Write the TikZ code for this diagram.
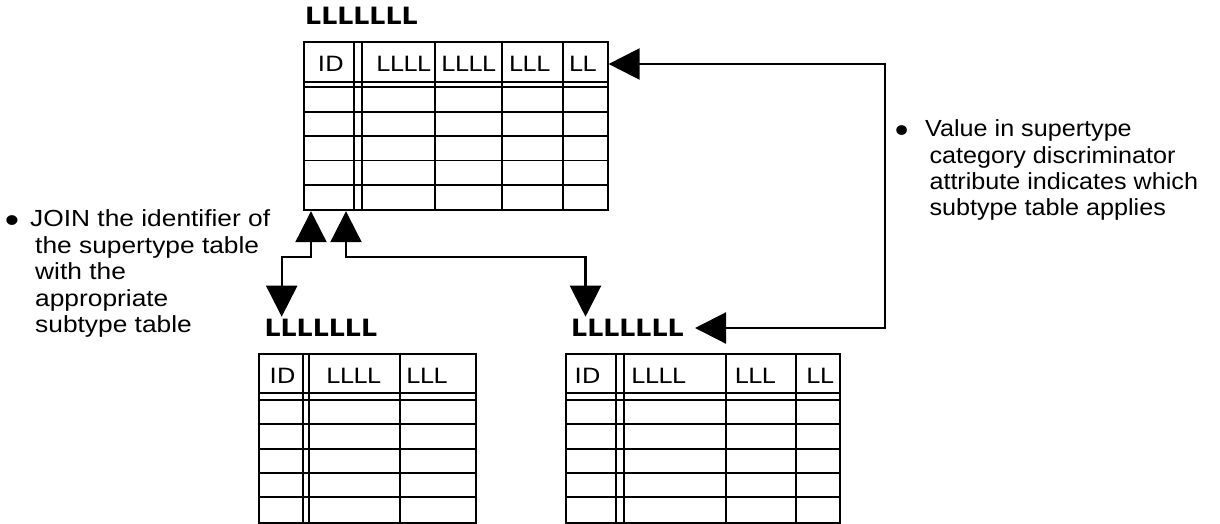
\documentclass[tikz,border=0pt]{standalone}
\usepackage{fontspec}
\setmainfont{Liberation Sans}
\newfontfamily\leftfont{Liberation Sans}[FakeStretch=1.13]
\newfontfamily\rightfont{Liberation Sans}[FakeStretch=1.08]
\newfontfamily\hdrfont{DejaVu Sans}[FakeStretch=1.16]
\newfontfamily\ttlfont{DejaVu Sans}[FakeStretch=1.06]
\usetikzlibrary{arrows.meta}
\tikzset{bigtri/.tip={Triangle[length=31pt,width=31pt]}}
\newcommand{\bigbullet}{\raisebox{-5.9pt}{\scalebox{1.55}{\textbullet}}}

\begin{document}
\begin{tikzpicture}[x=1pt,y=-1pt,
  tbl/.style={draw,line width=1.9pt,inner sep=0pt,anchor=north west},
  grid/.style={line width=1.9pt},
  hdr/.style={inner sep=0pt,anchor=base west,font=\hdrfont\fontsize{21}{21}\selectfont},
  ttl/.style={inner sep=0pt,anchor=base west,font=\ttlfont\bfseries\fontsize{23.8}{23.8}\selectfont},
  note/.style={inner sep=0pt,anchor=base west,align=left},
  conn/.style={line width=2.2pt,bigtri-bigtri}]
\useasboundingbox (0,0) rectangle (1220,523);

% ---- supertype table ----
\node[ttl] (Tt) at (305,24.7) {LLLLLLL};
\node[tbl,minimum width=303.4pt,minimum height=168.6pt] (T) at (303.3,40.7) {};
\foreach \x in {354.3,361.7,435,501.7,563.3}
  \draw[grid] (\x,0 |- T.north) -- (\x,0 |- T.south);
\foreach \y in {81.7,87.3,111.7,136.1,160.5,184.9}
  \draw[grid] (T.west |- 0,\y) -- (T.east |- 0,\y);
\node[hdr] (T1) at (317.7,71.7) {ID};
\node[hdr] (T2) at (376,71.7) {LLLL};
\node[hdr] (T3) at (441,71.7) {LLLL};
\node[hdr] (T4) at (508.7,71.7) {LLL};
\node[hdr] (T5) at (568.7,71.7) {LL};

% ---- first subtype table ----
\node[ttl] (At) at (264.4,336.7) {LLLLLLL};
\node[tbl,minimum width=216.7pt,minimum height=169pt] (A) at (258.3,352.7) {};
\foreach \x in {303.3,309.3,400}
  \draw[grid] (\x,0 |- A.north) -- (\x,0 |- A.south);
\foreach \y in {392.7,400,424.3,448.7,473,497.3}
  \draw[grid] (A.west |- 0,\y) -- (A.east |- 0,\y);
\node[hdr] (A1) at (269.4,383) {ID};
\node[hdr] (A2) at (326,383) {LLLL};
\node[hdr] (A3) at (406,383) {LLL};

% ---- second subtype table ----
\node[ttl] (Bt) at (571,336.7) {LLLLLLL};
\node[tbl,minimum width=274.3pt,minimum height=169pt] (B) at (565,352.7) {};
\foreach \x in {615.7,624,725.7,795.7}
  \draw[grid] (\x,0 |- B.north) -- (\x,0 |- B.south);
\foreach \y in {392.7,400,424.3,448.7,473,497.3}
  \draw[grid] (B.west |- 0,\y) -- (B.east |- 0,\y);
\node[hdr] (B1) at (574.4,383) {ID};
\node[hdr] (B2) at (631,383) {LLLL};
\node[hdr] (B3) at (734.4,383) {LLL};
\node[hdr] (B4) at (806,383) {LL};

% ---- connectors ----
\coordinate (jA) at (311,257.3);
\coordinate (jB) at (346,257.3);
\coordinate (dA) at (281.7,316.7);
\coordinate (dB) at (585.5,316.7);
\draw[conn] (jA |- T.south) -- (jA) -- (dA |- jA) -- (dA);
\draw[conn] (jB |- T.south) -- (jB) -- (dB |- jB) -- (dB);

\coordinate (loop) at (885,64);
\coordinate (dsc) at (695,328);
\draw[conn] (T.east |- loop) -- (loop) -- (loop |- dsc) -- (dsc);

% ---- notes (anchored at the baseline of their last line) ----
\node[note,font=\leftfont\fontsize{23.3}{26.5}\selectfont] (n1) at (30,332.7)
  {\llap{\bigbullet\hspace{11pt}}JOIN the identifier of\\
   \hspace*{5pt}the supertype table\\
   \hspace*{5pt}with the\\
   \hspace*{5pt}appropriate\\
   \hspace*{5pt}subtype table};
\node[note,font=\rightfont\fontsize{23.3}{26.4}\selectfont] (n2) at (925,215.9)
  {\llap{\bigbullet\hspace{16.6pt}}Value in supertype\\
   \hspace*{4.3pt}category discriminator\\
   \hspace*{4.3pt}attribute indicates which\\
   \hspace*{4.3pt}subtype table applies};
\end{tikzpicture}
\end{document}
